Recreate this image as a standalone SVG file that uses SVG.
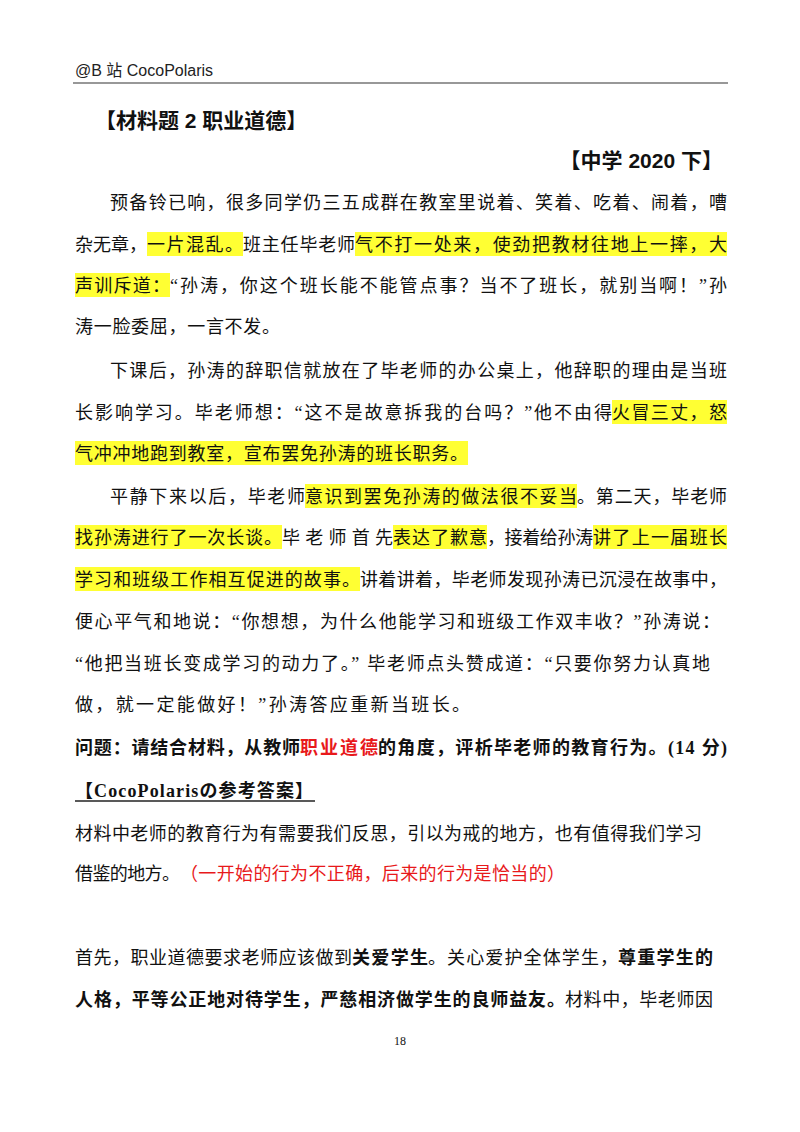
<svg xmlns="http://www.w3.org/2000/svg" width="800" height="1132" viewBox="0 0 800 1132">
<style>
text{font-family:"Liberation Serif","Noto Sans CJK SC",serif;font-size:18px;fill:#111}
.b{font-weight:bold}
.r{fill:#e8191b}
.h{fill:#ffff33}
.s{font-family:"Liberation Sans","Noto Sans CJK SC",sans-serif}
</style>
<rect width="800" height="1132" fill="#fff"/>
<text class="s" x="75" y="76" font-size="16" style="font-size:16px;fill:#222">@B 站 CocoPolaris</text>
<line x1="73" y1="83" x2="728" y2="83" stroke="#333" stroke-width="1.2"/>
<text class="s b" x="95" y="128" style="font-size:21px">【材料题 2  职业道德】</text>
<text class="s b" x="723" y="168" text-anchor="end" style="font-size:21px">【中学 2020 下】</text>
<g id="highlights">
<rect class="h" x="147" y="232" width="96" height="24"/>
<rect class="h" x="355" y="232" width="372" height="24"/>
<rect class="h" x="75" y="273" width="95" height="24"/>
<rect class="h" x="612" y="400" width="115" height="24"/>
<rect class="h" x="75" y="441" width="393" height="24"/>
<rect class="h" x="305" y="484" width="272" height="24"/>
<rect class="h" x="75" y="525" width="207" height="24"/>
<rect class="h" x="393" y="525" width="94" height="24"/>
<rect class="h" x="593" y="525" width="134" height="24"/>
<rect class="h" x="75" y="567" width="285" height="24"/>
</g>
<g id="para1">
<text x="110" y="209" textLength="617">预备铃已响，很多同学仍三五成群在教室里说着、笑着、吃着、闹着，嘈</text>
<text x="75" y="251" textLength="72">杂无章，</text>
<text x="147" y="251" textLength="96">一片混乱。</text>
<text x="243" y="251" textLength="112">班主任毕老师</text>
<text x="355" y="251" textLength="372">气不打一处来，使劲把教材往地上一摔，大</text>
<text x="75" y="292" textLength="95">声训斥道：</text>
<text x="170" y="292" textLength="557">“孙涛，你这个班长能不能管点事？当不了班长，就别当啊！”孙</text>
<text x="75" y="333" textLength="205">涛一脸委屈，一言不发。</text>
</g>
<g id="para2">
<text x="110" y="377" textLength="617">下课后，孙涛的辞职信就放在了毕老师的办公桌上，他辞职的理由是当班</text>
<text x="75" y="419" textLength="537">长影响学习。毕老师想：“这不是故意拆我的台吗？”他不由得</text>
<text x="612" y="419" textLength="115">火冒三丈，怒</text>
<text x="75" y="460" textLength="393">气冲冲地跑到教室，宣布罢免孙涛的班长职务。</text>
</g>
<g id="para3">
<text x="110" y="503" textLength="195">平静下来以后，毕老师</text>
<text x="305" y="503" textLength="272">意识到罢免孙涛的做法很不妥当</text>
<text x="577" y="503" textLength="150">。第二天，毕老师</text>
<text x="75" y="544" textLength="207">找孙涛进行了一次长谈。</text>
<text x="282" y="544" textLength="111">毕老师首先</text>
<text x="393" y="544" textLength="94">表达了歉意</text>
<text x="487" y="544" textLength="106">，接着给孙涛</text>
<text x="593" y="544" textLength="134">讲了上一届班长</text>
<text x="75" y="586" textLength="285">学习和班级工作相互促进的故事。</text>
<text x="360" y="586" textLength="367">讲着讲着，毕老师发现孙涛已沉浸在故事中，</text>
<text x="75" y="628" textLength="645">便心平气和地说：“你想想，为什么他能学习和班级工作双丰收？”孙涛说：</text>
<text x="75" y="670" textLength="635">“他把当班长变成学习的动力了。” 毕老师点头赞成道：“只要你努力认真地</text>
<text x="75" y="711" textLength="395">做，就一定能做好！”孙涛答应重新当班长。</text>
</g>
<g id="question">
<text class="b" x="75" y="754" textLength="225">问题：请结合材料，从教师</text>
<text class="b r" x="300" y="754" textLength="78">职业道德</text>
<text class="b" x="378" y="754" textLength="349">的角度，评析毕老师的教育行为。(14 分)</text>
</g>
<g id="answer">
<text class="b" x="75" y="797" textLength="238">【CocoPolarisの参考答案】</text>
<line x1="75" y1="801" x2="315" y2="801" stroke="#222" stroke-width="1.5"/>
<text x="75" y="840" textLength="627">材料中老师的教育行为有需要我们反思，引以为戒的地方，也有值得我们学习</text>
<text x="75" y="880" textLength="105">借鉴的地方。</text>
<text class="r" x="180" y="880" textLength="385">（一开始的行为不正确，后来的行为是恰当的）</text>
<text x="75" y="964" textLength="277">首先，职业道德要求老师应该做到</text>
<text class="b" x="352" y="964" textLength="76">关爱学生</text>
<text x="428" y="964" textLength="190">。关心爱护全体学生，</text>
<text class="b" x="618" y="964" textLength="95">尊重学生的</text>
<text class="b" x="75" y="1006" textLength="490">人格，平等公正地对待学生，严慈相济做学生的良师益友。</text>
<text x="565" y="1006" textLength="148">材料中，毕老师因</text>
</g>
<text x="400" y="1045" text-anchor="middle" style="font-size:12px">18</text>
</svg>
